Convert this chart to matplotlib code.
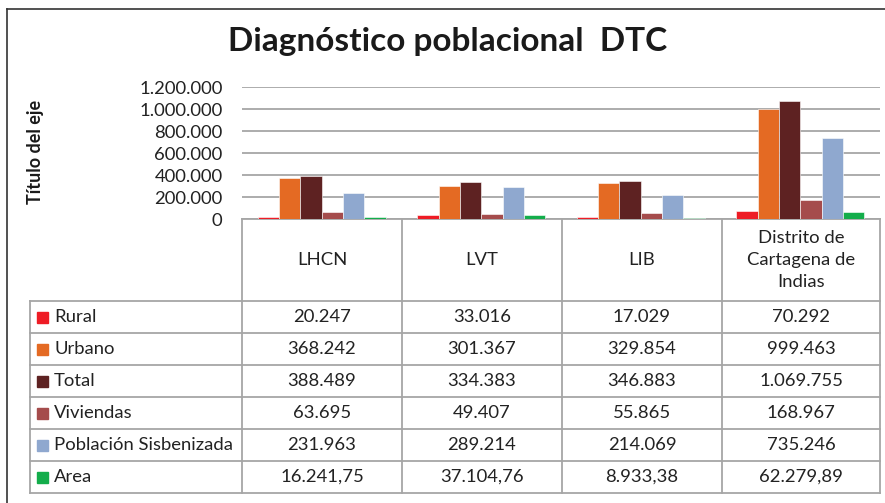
import numpy as np
import matplotlib
matplotlib.use("Agg")
from matplotlib import pyplot as plt

# data
categories = ["LHCN", "LVT", "LIB", "Distrito de\nCartagena de\nIndias"]
series = ["Rural", "Urbano", "Total", "Viviendas", "Población Sisbenizada", "Area"]
rural = [20247, 33016, 17029, 70292]
urbano = [368242, 301367, 329854, 999463]
total = [388489, 334383, 346883, 1069755]
viviendas = [63695, 49407, 55865, 168967]
poblacion = [231963, 289214, 214069, 735246]
area = [16241.75, 37104.76, 8933.38, 62279.89]
table_text = [
    ["20.247", "33.016", "17.029", "70.292"],
    ["368.242", "301.367", "329.854", "999.463"],
    ["388.489", "334.383", "346.883", "1.069.755"],
    ["63.695", "49.407", "55.865", "168.967"],
    ["231.963", "289.214", "214.069", "735.246"],
    ["16.241,75", "37.104,76", "8.933,38", "62.279,89"],
]
yticks = [0, 200000, 400000, 600000, 800000, 1000000, 1200000]
ytick_labels = ["0", "200.000", "400.000", "600.000", "800.000", "1.000.000", "1.200.000"]
colors = ["#ee1c25", "#e46a23", "#5e2222", "#a54c4c", "#8fa8cf", "#13ad4b"]

plt.rcParams["font.family"] = ["Lato", "DejaVu Sans"]

W, H = 885, 503
fig = plt.figure(figsize=(W / 100, H / 100), dpi=100)

# overlay for frame and table grid (pixel coords)
ov = fig.add_axes([0, 0, 1, 1])
ov.set_xlim(0, W)
ov.set_ylim(H, 0)
ov.axis("off")

grid_c = "#a6a6a6"
txt_c = "#222222"
fs = 13.3
# outer chart frame
ov.plot([7, 7], [9, H], color="#333333", lw=1.2)
ov.plot([7, W], [9, 9], color="#333333", lw=1.2)

# plot area
L, R, T, B = 242, 880, 87, 219
ax = fig.add_axes([L / W, 1 - B / H, (R - L) / W, (B - T) / H])
data = [rural, urbano, total, viviendas, poblacion, area]
x = np.arange(len(categories))
bw = 0.8 / len(series)
for i, (vals, c) in enumerate(zip(data, colors)):
    ax.bar(x - 0.4 + bw * (i + 0.5), vals, width=bw, color=c,
           edgecolor="white", linewidth=0.4, zorder=3)
ax.set_xlim(-0.5, len(categories) - 0.5)
ax.set_ylim(0, 1200000)
ax.set_yticks(yticks)
ax.set_yticklabels(ytick_labels, fontsize=fs, color=txt_c)
ax.tick_params(axis="y", length=0, pad=14)
ax.set_xticks([])
ax.grid(axis="y", color=grid_c, lw=1.3, zorder=0)
for s in ["top", "right", "left"]:
    ax.spines[s].set_visible(False)
ax.spines["bottom"].set_color(grid_c)
ax.spines["bottom"].set_linewidth(1.3)

# title and axis label
fig.text(448 / W, 1 - 42 / H, "Diagnóstico poblacional  DTC", ha="center",
         va="center", fontsize=24, fontweight="bold", color="#1a1a1a")
fig.text(36 / W, 1 - 152 / H, "Título del eje", rotation=90, ha="center",
         va="center", fontsize=13, fontweight="bold", color="#1a1a1a")

# table grid
col_x = [242, 402, 562, 722, 880]
row_y = [301, 333, 365, 397, 429, 461, 493]
for cx in col_x:
    ov.plot([cx, cx], [B, row_y[-1]], color=grid_c, lw=1.3)
ov.plot([30, 30], [row_y[0], row_y[-1]], color=grid_c, lw=1.3)
for ry in row_y:
    ov.plot([30, 880], [ry, ry], color=grid_c, lw=1.3)

# category headers
for j, cat in enumerate(categories):
    ov.text((col_x[j] + col_x[j + 1]) / 2, (B + row_y[0]) / 2, cat,
            ha="center", va="center", fontsize=fs, color=txt_c,
            linespacing=1.45)

# rows
for i, name in enumerate(series):
    yc = (row_y[i] + row_y[i + 1]) / 2
    ov.add_patch(plt.Rectangle((37, yc - 5.5), 11, 11, color=colors[i]))
    ov.text(54, yc, name, ha="left", va="center", fontsize=fs, color=txt_c)
    for j in range(len(categories)):
        ov.text((col_x[j] + col_x[j + 1]) / 2, yc, table_text[i][j],
                ha="center", va="center", fontsize=fs, color=txt_c)

fig.savefig("out.png", dpi=100)
